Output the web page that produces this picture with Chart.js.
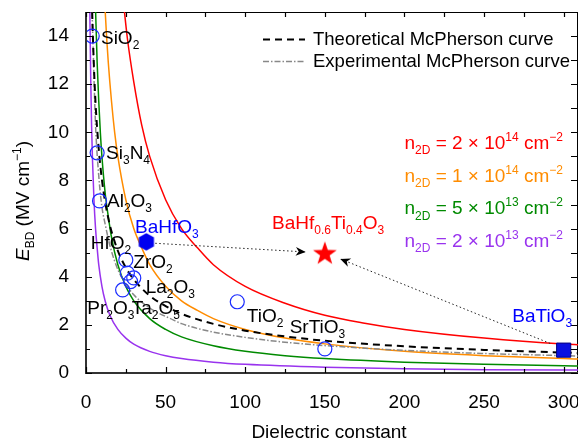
<!DOCTYPE html>
<html>
<head>
<meta charset="utf-8">
<script src="https://cdn.jsdelivr.net/npm/chart.js@4.4.1/dist/chart.umd.min.js"></script>
<style>
  html, body { margin: 0; padding: 0; background: #fff; }
</style>
</head>
<body>
<canvas id="myChart" width="578" height="441"></canvas>
<script>
const FONT = '"Liberation Sans", Arial, sans-serif'

// n2D = 2e14 cm-2 (red)
const kRed = [22, 24, 26, 30, 35, 40, 50, 60, 70, 80, 100, 125, 150, 175, 200, 250, 300, 310]
const eRed = [16.4, 15.1, 13.9, 12.1, 10.3, 9.0, 7.2, 6.0, 5.2, 4.5, 3.6, 2.9, 2.4, 2.07, 1.81, 1.45, 1.2, 1.17]
// n2D = 1e14 cm-2 (orange)
const kOrange = [11, 12, 13, 14, 16, 18, 20, 25, 30, 35, 40, 50, 60, 70, 80, 100, 125, 150, 200, 250, 300, 310]
const eOrange = [16.4, 15.1, 13.9, 12.9, 11.3, 10.0, 9.0, 7.2, 6.0, 5.2, 4.5, 3.6, 3.0, 2.6, 2.26, 1.81, 1.45, 1.21, 0.9, 0.72, 0.6, 0.58]
// n2D = 5e13 cm-2 (green)
const kGreen = [5.5, 6, 7, 8, 9, 10, 12, 14, 16, 20, 25, 30, 40, 50, 60, 80, 100, 125, 150, 200, 250, 300, 310]
const eGreen = [16.4, 15.1, 12.9, 11.3, 10.0, 9.0, 7.5, 6.5, 5.65, 4.5, 3.6, 3.0, 2.26, 1.81, 1.5, 1.13, 0.9, 0.72, 0.6, 0.45, 0.36, 0.3, 0.29]
// n2D = 2e13 cm-2 (purple)
const kPurple = [2.2, 2.5, 3, 3.5, 4, 5, 6, 7, 8, 10, 12, 15, 20, 25, 30, 40, 50, 60, 80, 100, 150, 200, 250, 300, 310]
const ePurple = [16.4, 14.5, 12.1, 10.3, 9.0, 7.2, 6.0, 5.2, 4.5, 3.6, 3.0, 2.4, 1.81, 1.45, 1.2, 0.9, 0.72, 0.6, 0.45, 0.36, 0.24, 0.18, 0.14, 0.12, 0.12]
// McPherson curves
const kMcP = [3.5, 4, 5, 6, 8, 10, 12, 15, 20, 25, 30, 40, 50, 60, 80, 100, 125, 150, 200, 250, 300, 310]
const eTheo = [16.0, 14.7, 12.7, 11.2, 9.31, 8.03, 7.12, 6.14, 5.08, 4.38, 3.89, 3.21, 2.78, 2.46, 2.04, 1.76, 1.52, 1.34, 1.11, 0.96, 0.85, 0.83]
const kExp = [3.8, 4.5, 5, 6, 8, 10, 12, 15, 20, 25, 30, 40, 55, 60, 80, 100, 125, 150, 200, 250, 300, 310]
const eExp = [15.0, 13.5, 12.3, 10.3, 8.2, 6.9, 6.2, 5.3, 4.3, 3.7, 3.25, 2.7, 2.2, 2.05, 1.7, 1.48, 1.28, 1.14, 0.94, 0.81, 0.72, 0.7]

// oxides (open circles)
const oxideK = [3.9, 7, 8.5, 25, 26, 30, 28, 23, 95, 150]
const oxideE = [14.0, 9.15, 7.15, 4.7, 4.15, 3.95, 3.8, 3.45, 2.96, 1.0]
const bahfoK = [37.9], bahfoE = [5.45]
const batioK = [300], batioE = [0.95]
const starK = [150], starE = [4.97]
// dotted arrows (start -> head)
const arrowAK = [43.5, 138], arrowAE = [5.39, 5.03]
const arrowBK = [291.5, 159.7], arrowBE = [1.23, 4.74]

// tick labels
const xTicks = [0, 50, 100, 150, 200, 250, 300]
const yTicks = [0, 2, 4, 6, 8, 10, 12, 14]

// text labels: name, anchor k, anchor E (left edge, vertical centre)
const labelNames = ['SiO_{2}', 'Si_{3}N_{4}', 'Al_{2}O_{3}', 'HfO_{2}', 'ZrO_{2}', 'La_{2}O_{3}', 'Pr_{2}O_{3}', 'Ta_{2}O_{5}', 'TiO_{2}', 'SrTiO_{3}']
const labelK = [9.4, 12.6, 13.2, 3.0, 29.7, 37.5, 0.8, 28.7, 101, 127.9]
const labelE = [13.96, 9.18, 7.19, 5.45, 4.65, 3.61, 2.73, 2.74, 2.41, 1.95]

const pts = (ks, es) => ks.map((k, i) => ({ x: k, y: es[i] }))

// marker images
function makeStar() {
    const c = document.createElement('canvas')
    c.width = 26; c.height = 26
    const g = c.getContext('2d')
    g.beginPath()
    for (let i = 0; i < 10; i++) {
        const r = i % 2 ? 5 : 12.5
        const a = -Math.PI / 2 + i * Math.PI / 5
        g.lineTo(13 + r * Math.cos(a), 13.5 + r * Math.sin(a))
    }
    g.closePath()
    g.fillStyle = '#ff0000'
    g.fill()
    return c
}
function makeHex() {
    const c = document.createElement('canvas')
    c.width = 18; c.height = 20
    const g = c.getContext('2d')
    g.beginPath()
    for (let i = 0; i < 6; i++) {
        const a = -Math.PI / 2 + i * Math.PI / 3
        g.lineTo(9 + 8.8 * Math.cos(a), 10 + 8.8 * Math.sin(a))
    }
    g.closePath()
    g.fillStyle = '#0000f0'
    g.fill()
    return c
}

function parseRich(s) {
    const out = []
    const re = /([_^])\{([^}]*)\}|([^_^]+)/g
    let m
    while ((m = re.exec(s))) {
        if (m[1]) out.push({ t: m[2], s: m[1] === '_' ? 'sub' : 'sup' })
        else out.push({ t: m[3] })
    }
    return out
}
function drawRich(ctx, parts, x, base, align, color, size) {
    const small = Math.round(size * 0.63)
    const f = p => (p.it ? 'italic ' : '') + (p.s ? small : size) + 'px ' + FONT
    let w = 0
    parts.forEach(p => { ctx.font = f(p); w += ctx.measureText(p.t).width })
    let cx = align === 'right' ? x - w : align === 'center' ? x - w / 2 : x
    ctx.fillStyle = color
    ctx.textAlign = 'left'
    ctx.textBaseline = 'alphabetic'
    parts.forEach(p => {
        ctx.font = f(p)
        const dy = p.s === 'sub' ? size * 0.27 : p.s === 'sup' ? -size * 0.42 : 0
        ctx.fillText(p.t, cx, base + dy)
        cx += ctx.measureText(p.t).width
    })
}

const decorPlugin = {
    id: 'decor',
    beforeDatasetsDraw(chart) {
        const { ctx, chartArea: a } = chart
        ctx.save()
        ctx.strokeStyle = '#000'
        ctx.lineWidth = 1
        ctx.beginPath()
        ctx.moveTo(a.left, a.top + 0.5); ctx.lineTo(a.right, a.top + 0.5)
        ctx.moveTo(a.right - 0.5, a.top); ctx.lineTo(a.right - 0.5, a.bottom)
        ctx.stroke()
        ctx.restore()
    },
    afterDraw(chart) {
        const { ctx, chartArea: a, scales: { x, y } } = chart
        ctx.save()
        // axes
        ctx.strokeStyle = '#333'
        ctx.lineWidth = 2
        ctx.beginPath()
        ctx.moveTo(a.left, a.top); ctx.lineTo(a.left, a.bottom)
        ctx.lineTo(a.right, a.bottom)
        ctx.stroke()
        // inward ticks
        ctx.lineWidth = 1.2
        ctx.strokeStyle = '#000'
        ctx.beginPath()
        for (let v = 0; v <= 300; v += 25) {
            const px = Math.round(x.getPixelForValue(v)) + 0.5
            const len = v % 50 ? 4 : 6
            ctx.moveTo(px, a.bottom); ctx.lineTo(px, a.bottom - len)
            ctx.moveTo(px, a.top); ctx.lineTo(px, a.top + 5)
        }
        for (let v = 0; v <= 15; v++) {
            const py = Math.round(y.getPixelForValue(v)) + 0.5
            const len = v % 2 ? 4 : 6
            ctx.moveTo(a.left, py); ctx.lineTo(a.left + len, py)
            ctx.moveTo(a.right, py); ctx.lineTo(a.right - 7, py)
        }
        ctx.stroke()

        // arrow heads
        chart.data.datasets.forEach((ds, i) => {
            if (!ds.arrow) return
            const els = chart.getDatasetMeta(i).data
            const p0 = els[els.length - 2], p1 = els[els.length - 1]
            const ang = Math.atan2(p1.y - p0.y, p1.x - p0.x)
            ctx.save()
            ctx.translate(p1.x, p1.y)
            ctx.rotate(ang)
            ctx.fillStyle = '#000'
            ctx.beginPath()
            ctx.moveTo(0, 0); ctx.lineTo(-10, -4.5); ctx.lineTo(-7, 0); ctx.lineTo(-10, 4.5)
            ctx.closePath()
            ctx.fill()
            ctx.restore()
        })

        // material labels
        labelNames.forEach((n, i) => {
            const px = x.getPixelForValue(labelK[i]), py = y.getPixelForValue(labelE[i])
            drawRich(ctx, parseRich(n), px, py + 7, 'left', '#000', 19)
        })
        drawRich(ctx, parseRich('BaHfO_{3}'), x.getPixelForValue(30.8), y.getPixelForValue(6.11) + 7, 'left', '#0000ff', 19)
        drawRich(ctx, parseRich('BaTiO_{3}'), x.getPixelForValue(267.7), y.getPixelForValue(2.41) + 7, 'left', '#0000ff', 19)
        drawRich(ctx, parseRich('BaHf_{0.6}Ti_{0.4}O_{3}'), x.getPixelForValue(116.8), y.getPixelForValue(6.29) + 7, 'left', '#ff0000', 19)

        // n2D labels
        const nRows = [['2', '14', '#ff0000'], ['1', '14', '#ff8c00'], ['5', '13', '#008a00'], ['2', '13', '#9933ee']]
        nRows.forEach((r, i) => {
            const txt = 'n_{2D} = ' + r[0] + ' \u00d7 10^{' + r[1] + '} cm^{\u22122}'
            drawRich(ctx, parseRich(txt), 563, 149 + i * 32.7, 'right', r[2], 19)
        })

        // legend
        ctx.lineWidth = 2
        ctx.strokeStyle = '#000'
        ctx.setLineDash([7, 5])
        ctx.beginPath(); ctx.moveTo(263, 39.5); ctx.lineTo(305, 39.5); ctx.stroke()
        ctx.lineWidth = 1.5
        ctx.strokeStyle = '#888'
        ctx.setLineDash([6, 2, 1.5, 2])
        ctx.beginPath(); ctx.moveTo(263, 61.5); ctx.lineTo(305, 61.5); ctx.stroke()
        ctx.setLineDash([])
        drawRich(ctx, [{ t: 'Theoretical McPherson curve' }], 313, 45, 'left', '#000', 18.5)
        drawRich(ctx, [{ t: 'Experimental McPherson curve' }], 313, 67, 'left', '#000', 18.5)

        // axis titles
        drawRich(ctx, [{ t: 'Dielectric constant' }], 329, 438, 'center', '#000', 19)
        ctx.translate(22, 201)
        ctx.rotate(-Math.PI / 2)
        drawRich(ctx, [{ t: 'E', it: true }, { t: 'BD', s: 'sub' }, { t: ' (MV cm' }, { t: '\u22121', s: 'sup' }, { t: ')' }], 0, 7, 'center', '#000', 19)
        ctx.restore()
    }
}

const curve = (ks, es, color, extra) => Object.assign({
    data: pts(ks, es),
    showLine: true,
    borderColor: color,
    borderWidth: 1.5,
    pointRadius: 0,
    cubicInterpolationMode: 'monotone',
    fill: false
}, extra || {})

const data = {
    datasets: [
        { data: pts(starK, starE), pointStyle: makeStar(), pointRadius: 12 },
        { data: pts(bahfoK, bahfoE), pointStyle: makeHex(), pointRadius: 9 },
        { data: pts(batioK, batioE), pointStyle: 'rect', pointRadius: 10, backgroundColor: '#0a10e0', borderColor: '#000080', borderWidth: 1 },
        { data: pts(oxideK, oxideE), pointStyle: 'circle', pointRadius: 7, backgroundColor: 'rgba(0,0,0,0)', borderColor: '#1a2cff', borderWidth: 1.2 },
        { data: pts(arrowAK, arrowAE), showLine: true, arrow: true, borderColor: '#222', borderWidth: 1, borderDash: [1.5, 2.5], pointRadius: 0 },
        { data: pts(arrowBK, arrowBE), showLine: true, arrow: true, borderColor: '#222', borderWidth: 1, borderDash: [1.5, 2.5], pointRadius: 0 },
        curve(kMcP, eTheo, '#000', { borderWidth: 2, borderDash: [7, 5] }),
        curve(kExp, eExp, '#888', { borderWidth: 1.5, borderDash: [6, 2, 1.5, 2] }),
        curve(kRed, eRed, '#ff0000'),
        curve(kOrange, eOrange, '#ff8c00'),
        curve(kGreen, eGreen, '#008a00'),
        curve(kPurple, ePurple, '#9933ee')
    ]
}

const noPad = s => { s.paddingLeft = 0; s.paddingRight = 0; s.paddingTop = 0; s.paddingBottom = 0 }

const config = {
    type: 'scatter',
    data: data,
    options: {
        responsive: false,
        animation: false,
        layout: { autoPadding: false, padding: { top: 12, right: 0, left: 0, bottom: 0 } },
        plugins: { legend: { display: false }, tooltip: { enabled: false } },
        scales: {
            x: {
                type: 'linear', min: 0, max: 309,
                grid: { display: false }, border: { display: false },
                afterBuildTicks: s => { s.ticks = xTicks.map(v => ({ value: v })) },
                afterFit: s => { s.height = 68; noPad(s) },
                ticks: { padding: 10, color: '#000', font: { family: FONT, size: 19 } }
            },
            y: {
                type: 'linear', min: 0, max: 15,
                grid: { display: false }, border: { display: false },
                afterBuildTicks: s => { s.ticks = yTicks.map(v => ({ value: v })) },
                afterFit: s => { s.width = 86; noPad(s) },
                ticks: { padding: 9, color: '#000', font: { family: FONT, size: 19 } }
            }
        }
    },
    plugins: [decorPlugin]
}

new Chart(document.getElementById('myChart'), config)
</script>
</body>
</html>
